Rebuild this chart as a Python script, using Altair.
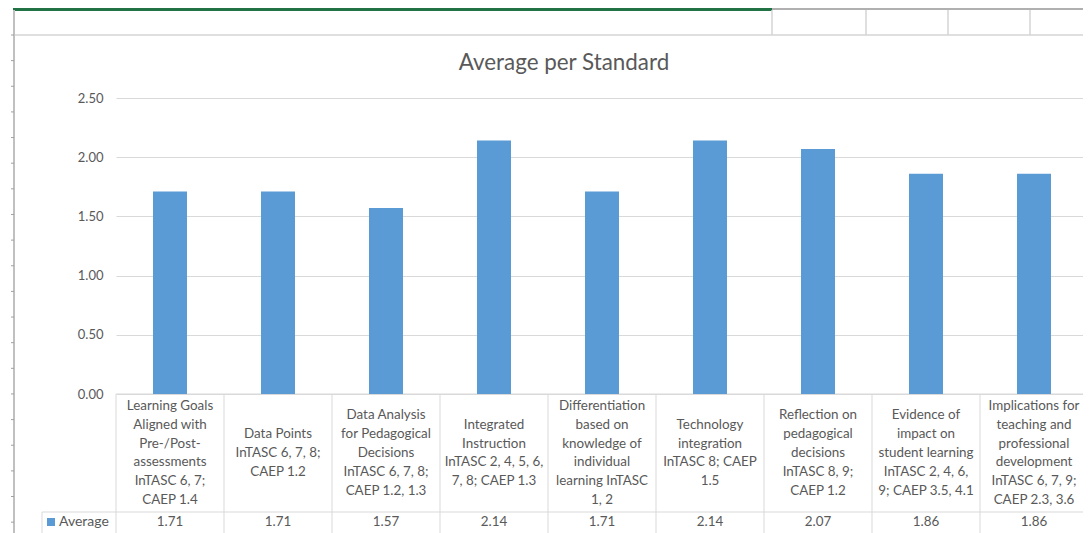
import altair as alt
import pandas as pd

categories = [
    "Learning Goals\nAligned with\nPre-/Post-\nassessments\nInTASC 6, 7;\nCAEP 1.4",
    "Data Points\nInTASC 6, 7, 8;\nCAEP 1.2",
    "Data Analysis\nfor Pedagogical\nDecisions\nInTASC 6, 7, 8;\nCAEP 1.2, 1.3",
    "Integrated\nInstruction\nInTASC 2, 4, 5, 6,\n7, 8; CAEP 1.3",
    "Differentiation\nbased on\nknowledge of\nindividual\nlearning InTASC\n1, 2",
    "Technology\nintegration\nInTASC 8; CAEP\n1.5",
    "Reflection on\npedagogical\ndecisions\nInTASC 8, 9;\nCAEP 1.2",
    "Evidence of\nimpact on\nstudent learning\nInTASC 2, 4, 6,\n9; CAEP 3.5, 4.1",
    "Implications for\nteaching and\nprofessional\ndevelopment\nInTASC 6, 7, 9;\nCAEP 2.3, 3.6",
]
averages = [1.71, 1.71, 1.57, 2.14, 1.71, 2.14, 2.07, 1.86, 1.86]
y_ticks = [0, 0.5, 1.0, 1.5, 2.0, 2.5]
series_name = "Average"
title_text = "Average per Standard"

df = pd.DataFrame({"cat": categories, "val": averages})
one = pd.DataFrame({"d": [0]})

FONT = "Lato"
TXT = "#595959"
GRID = "#d9d9d9"
BLUE = "#5b9bd5"
W, H = 967, 296
LH = 18.8
CELL_MID = 355

xscale = alt.Scale(paddingInner=0, paddingOuter=0, range=[0, 972])
xenc = alt.X("cat:N", sort=None, axis=None, scale=xscale)

bars = alt.Chart(df).mark_bar(size=34, color=BLUE).encode(
    x=xenc,
    y=alt.Y("val:Q", title=None,
            scale=alt.Scale(domain=[0, 2.5], nice=False),
            axis=alt.Axis(values=y_ticks, format=".2f", grid=True, gridColor=GRID,
                          domain=False, ticks=False, labelPadding=13,
                          labelFont=FONT, labelFontSize=13, labelColor=TXT)),
)

# multi-line labels: shift the first line up so the block is centred in the cell
cat_text = alt.Chart(df).transform_calculate(
    nlines="length(split(datum.cat, '\\n'))",
    ty=f"{CELL_MID} - (datum.nlines - 1) * {LH} / 2",
).mark_text(
    lineBreak="\n", align="center", baseline="middle", font=FONT,
    fontSize=13.4, color=TXT, lineHeight=LH,
).encode(x=xenc, y=alt.Y("ty:Q", scale=None, axis=None), text="cat:N")

val_text = alt.Chart(df).mark_text(
    align="center", baseline="middle", font=FONT, fontSize=13.4, color=TXT,
).encode(x=xenc, y=alt.value(424), text=alt.Text("val:Q", format=".2f"))

col_rules = alt.Chart(df).mark_rule(color=GRID, strokeWidth=1).encode(
    x=alt.X("cat:N", sort=None, axis=None, bandPosition=0, scale=xscale),
    y=alt.value(296), y2=alt.value(445),
)


def hrule(x1, x2, y, color, sw=1):
    return alt.Chart(one).mark_rule(color=color, strokeWidth=sw).encode(
        x=alt.value(x1), x2=alt.value(x2), y=alt.value(y))


def vrule(x, y1, y2, color, sw=1):
    return alt.Chart(one).mark_rule(color=color, strokeWidth=sw).encode(
        x=alt.value(x), y=alt.value(y1), y2=alt.value(y2))


deco = [
    hrule(0, W, 296, GRID),
    hrule(-74, W, 414, GRID),
    vrule(-74, 414, 445, GRID),
    # spreadsheet frame
    hrule(-103, 656, -88.5, "#217346", 3),
    hrule(656, W, -89, "#b0b0b0", 2),
    hrule(-102, W, -63, "#d4d4d4", 1.5),
    vrule(-102, -88, 445, "#c0c0c0", 2),
]
for xv in [656, 750, 832, 914]:
    deco.append(vrule(xv, -88, -63, "#d4d4d4", 1.5))
for k in range(20):
    yy = -63 + k * 25.64
    deco.append(hrule(-105, -102, yy, "#a0a0a0", 1))

legend_key = alt.Chart(one).mark_square(color=BLUE, size=64, opacity=1).encode(
    x=alt.value(-65), y=alt.value(424))
legend_txt = alt.Chart(pd.DataFrame({"s": [series_name]})).mark_text(
    align="left", baseline="middle", font=FONT, fontSize=14, color=TXT,
).encode(x=alt.value(-57), y=alt.value(424), text="s:N")

title = alt.Chart(pd.DataFrame({"t": [title_text]})).mark_text(
    align="center", baseline="middle", font=FONT, fontSize=22.4, color=TXT,
).encode(x=alt.value(448), y=alt.value(-35), text="t:N")

chart = alt.layer(
    *deco, col_rules, bars, cat_text, val_text, legend_key, legend_txt, title
).properties(
    width=W, height=H,
    autosize=alt.AutoSizeParams(type="none"),
    padding={"left": 108, "top": 90, "right": 0, "bottom": 139},
    background="white",
).configure_view(stroke=None)

chart.save("out.html", embed_options={"renderer": "svg", "actions": False})
